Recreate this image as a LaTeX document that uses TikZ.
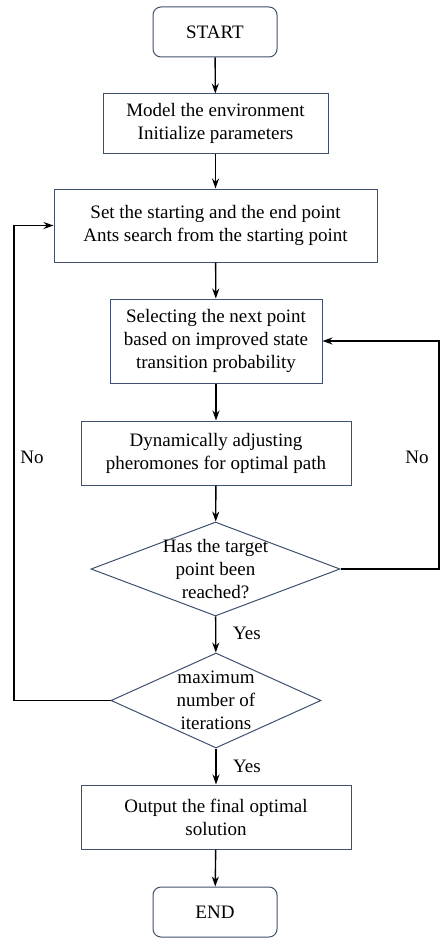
\documentclass[tikz,border=0pt]{standalone}
\usepackage{fontspec}
\setmainfont{Liberation Serif}
\usetikzlibrary{shapes.geometric,arrows.meta}
\definecolor{bordc}{HTML}{3E506E}
\begin{document}
\begin{tikzpicture}[x=1pt,y=-1pt,
  txtf/.style={font=\rmfamily\fontsize{19}{23}\selectfont},
  box/.style={draw=bordc,line width=1pt,align=center,txtf,inner sep=0pt,rectangle},
  term/.style={box,rounded corners=8pt},
  dia/.style={draw=bordc,line width=1pt,diamond,inner sep=0pt},
  lbl/.style={txtf,inner sep=0pt,align=center},
  arr/.style={line width=1.4pt,-{Stealth[length=10pt,width=7pt]}},
  ln/.style={line width=1.4pt}]
\useasboundingbox (0,0) rectangle (439,939);
\node[term,minimum width=124,minimum height=50] (start) at (215,32) {START};
\node[box,minimum width=225,minimum height=59] (model) at (215.5,123.5) {Model the environment\\Initialize parameters};
\node[box,minimum width=323,minimum height=73] (set) at (215.5,225.5) {Set the starting and the end point\\Ants search from the starting point};
\node[box,minimum width=212,minimum height=84] (sel) at (216,341) {Selecting the next point\\based on improved state\\transition probability};
\node[box,minimum width=270,minimum height=64] (dyn) at (216,453) {Dynamically adjusting\\pheromones for optimal path};
\node[dia,minimum width=249,minimum height=94] (d1) at (215.5,569) {};
\node[lbl] (d1t) at (d1.center) {Has the target\\point been\\reached?};
\node[dia,minimum width=210,minimum height=95] (d2) at (216,700.5) {};
\node[lbl] (d2t) at (d2.center) {maximum\\number of\\iterations};
\node[box,minimum width=270,minimum height=64] (out) at (216,817) {Output the final optimal\\solution};
\node[term,minimum width=124,minimum height=50] (end) at (215,912) {END};
\node[lbl] (no1) at (32,457) {No};
\node[lbl] (no2) at (417,457) {No};
\node[lbl] (yes1) at (247,633) {Yes};
\node[lbl] (yes2) at (247,766) {Yes};
\coordinate (lx) at (14,700.5);
\coordinate (rx) at (439,569);
\draw[arr] (start) -- (model);
\draw[arr] (model) -- (set);
\draw[arr] (set) -- (sel);
\draw[arr] (sel) -- (dyn);
\draw[arr] (dyn) -- (d1);
\draw[arr] (d1) -- (d2);
\draw[arr] (d2) -- (out);
\draw[arr] (out) -- (end);
\draw[arr] (d2.west) -- (lx) |- (set.west);
\draw[arr] (d1.east) -- (rx) |- (sel.east);
\end{tikzpicture}
\end{document}
